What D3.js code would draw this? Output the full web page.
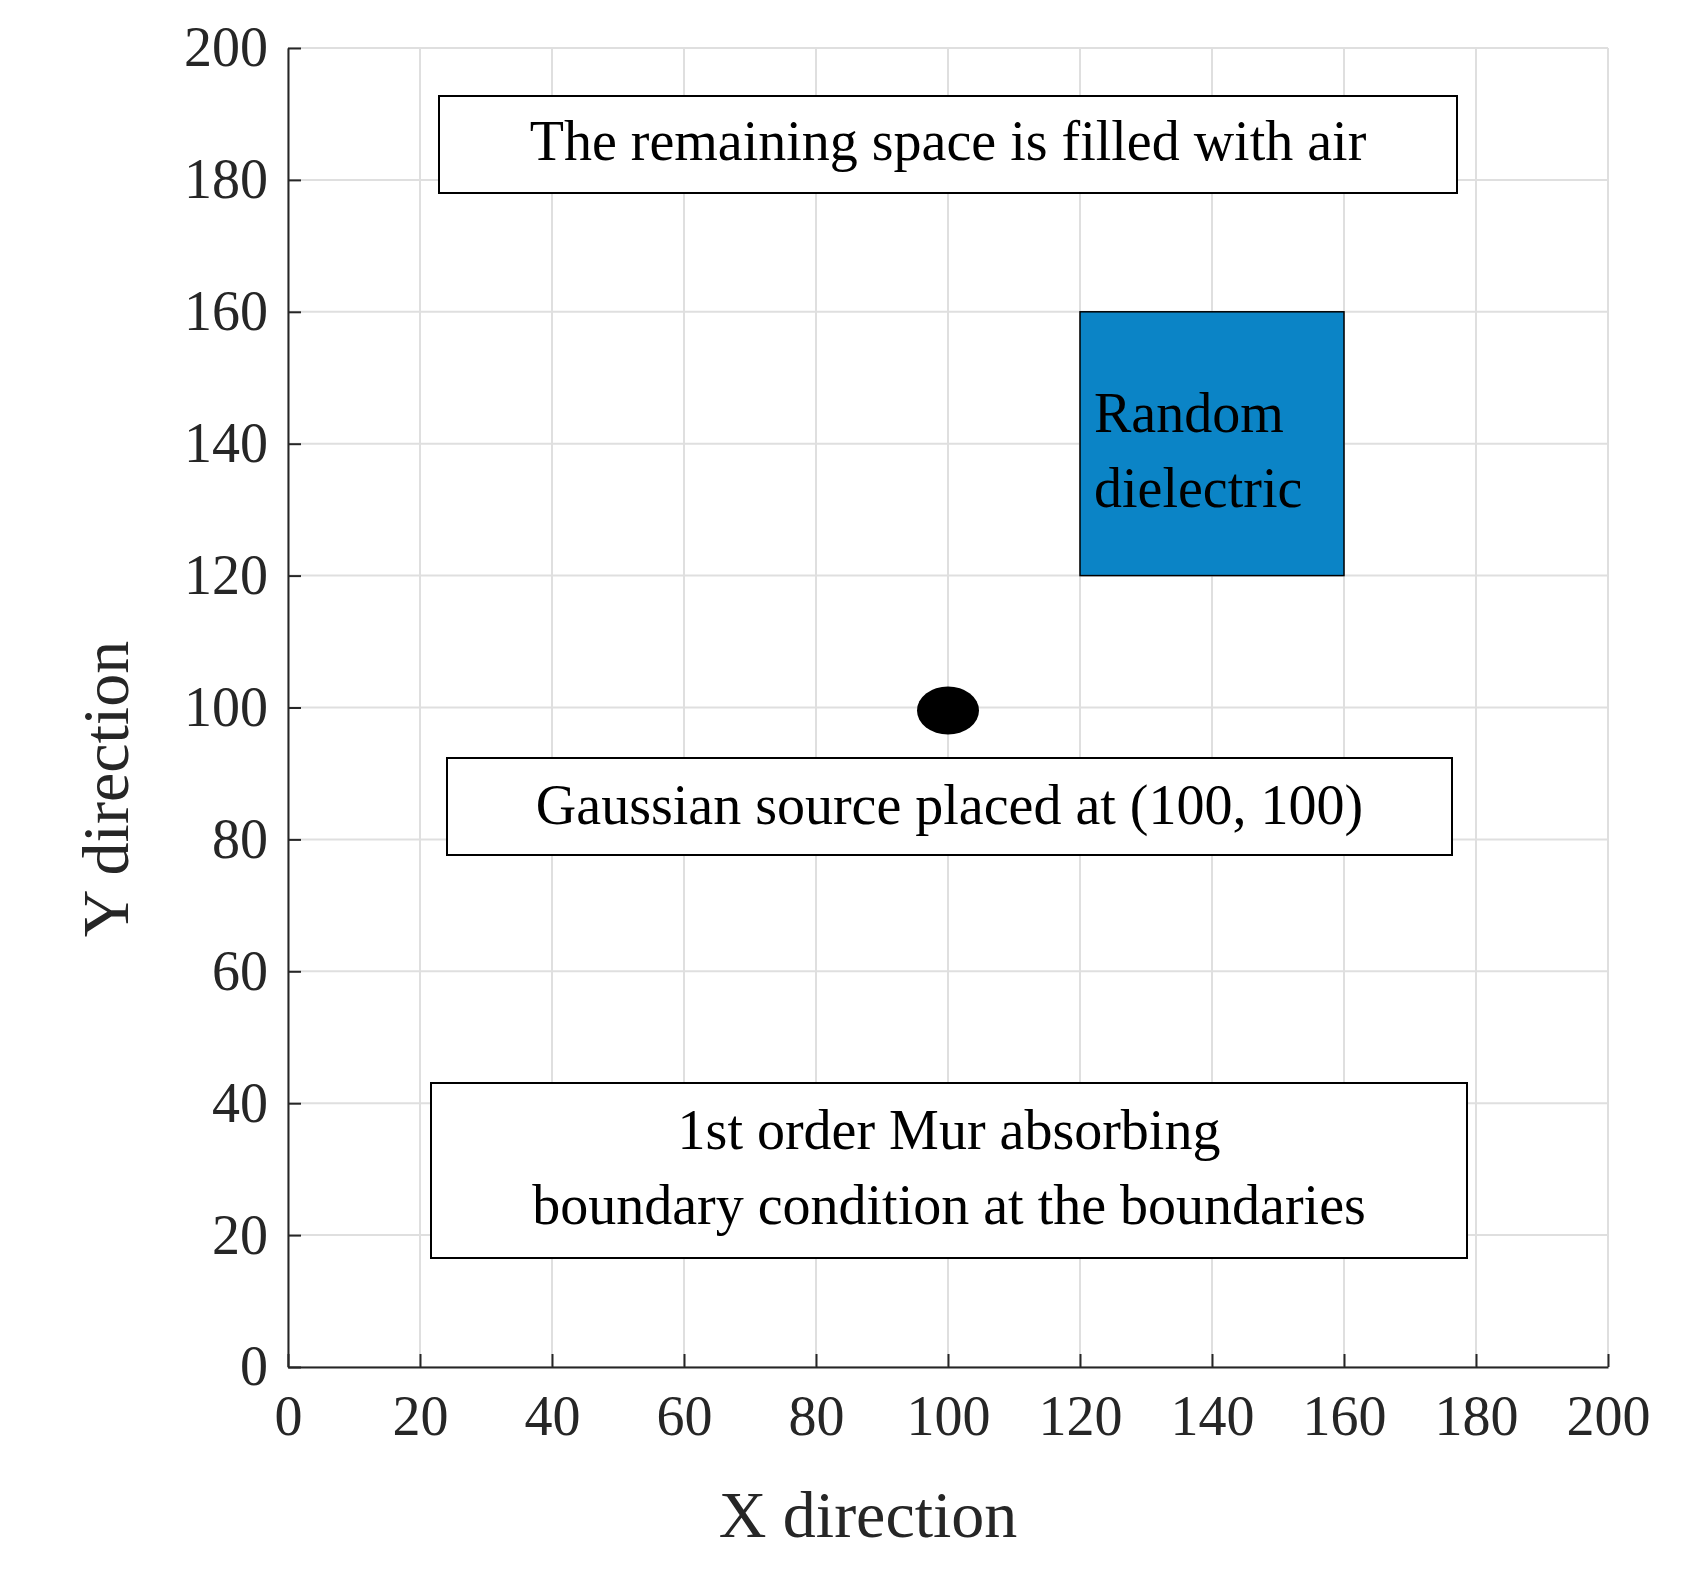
<!DOCTYPE html>
<html><head><meta charset="utf-8">
<script src="https://cdn.jsdelivr.net/npm/d3@7"></script>
<style>body{margin:0;background:#fff}text{font-family:"Liberation Serif","DejaVu Serif",serif}</style>
</head><body><svg width="1684" height="1575"></svg>
<script>
var ticks = [0, 20, 40, 60, 80, 100, 120, 140, 160, 180, 200];
var dielectric = {x0: 120, x1: 160, y0: 120, y1: 160};
var source = [100, 100];
var notes = [
  {lines: ["The remaining space is filled with air"], box: [439, 96, 1457, 193], cy: [147]},
  {lines: ["Gaussian source placed at (100, 100)"], box: [447, 758, 1452, 855], cy: [811]},
  {lines: ["1st order Mur absorbing", "boundary condition at the boundaries"], box: [431, 1083, 1467, 1258], cy: [1136, 1211]}
];

var svg = d3.select("svg");
var x = d3.scaleLinear().domain([0, 200]).range([288, 1608]);
var y = d3.scaleLinear().domain([0, 200]).range([1367, 48]);

var grid = svg.append("g").attr("stroke", "#dfdfdf").attr("stroke-width", 2);
grid.selectAll(".gx").data(ticks).enter().append("line")
  .attr("x1", d => x(d)).attr("x2", d => x(d)).attr("y1", y(0)).attr("y2", y(200));
grid.selectAll(".gy").data(ticks).enter().append("line")
  .attr("y1", d => y(d)).attr("y2", d => y(d)).attr("x1", x(0)).attr("x2", x(200));

var xa = svg.append("g").attr("transform", "translate(0," + y(0) + ")")
  .call(d3.axisBottom(x).tickValues(ticks).tickSizeInner(-13).tickSizeOuter(0).tickPadding(28));
var ya = svg.append("g").attr("transform", "translate(" + x(0) + ",0)")
  .call(d3.axisLeft(y).tickValues(ticks).tickSizeInner(-13).tickSizeOuter(0).tickPadding(20));
[xa, ya].forEach(function(a) {
  a.selectAll("path,line").attr("stroke", "#262626").attr("stroke-width", 2);
  a.selectAll("text").attr("font-size", 56).attr("fill", "#262626")
    .style("font-family", '"Liberation Serif",serif');
});

svg.append("rect")
  .attr("x", x(dielectric.x0)).attr("y", y(dielectric.y1))
  .attr("width", x(dielectric.x1) - x(dielectric.x0))
  .attr("height", y(dielectric.y0) - y(dielectric.y1))
  .attr("fill", "#0b84c6").attr("stroke", "#000").attr("stroke-width", 1.5);
svg.append("text").attr("x", 1094).attr("y", 419).attr("dominant-baseline", "middle")
  .attr("font-size", 56).text("Random");
svg.append("text").attr("x", 1094).attr("y", 494).attr("dominant-baseline", "middle")
  .attr("font-size", 56).text("dielectric");

svg.append("ellipse").attr("cx", x(source[0])).attr("cy", y(source[1]) + 3)
  .attr("rx", 31).attr("ry", 24).attr("fill", "#000");

notes.forEach(function(n) {
  var b = n.box;
  svg.append("rect").attr("x", b[0]).attr("y", b[1]).attr("width", b[2] - b[0]).attr("height", b[3] - b[1])
    .attr("fill", "#fff").attr("stroke", "#000").attr("stroke-width", 2);
  n.lines.forEach(function(t, i) {
    svg.append("text").attr("x", (b[0] + b[2]) / 2).attr("y", n.cy[i])
      .attr("text-anchor", "middle").attr("dominant-baseline", "middle")
      .attr("font-size", 56).text(t);
  });
});

svg.append("text").attr("x", 868).attr("y", 1522).attr("text-anchor", "middle")
  .attr("dominant-baseline", "middle").attr("font-size", 66).attr("fill", "#262626").text("X direction");
svg.append("text").attr("transform", "translate(113,789) rotate(-90)").attr("text-anchor", "middle")
  .attr("dominant-baseline", "middle").attr("font-size", 66).attr("fill", "#262626").text("Y direction");
</script></body></html>
